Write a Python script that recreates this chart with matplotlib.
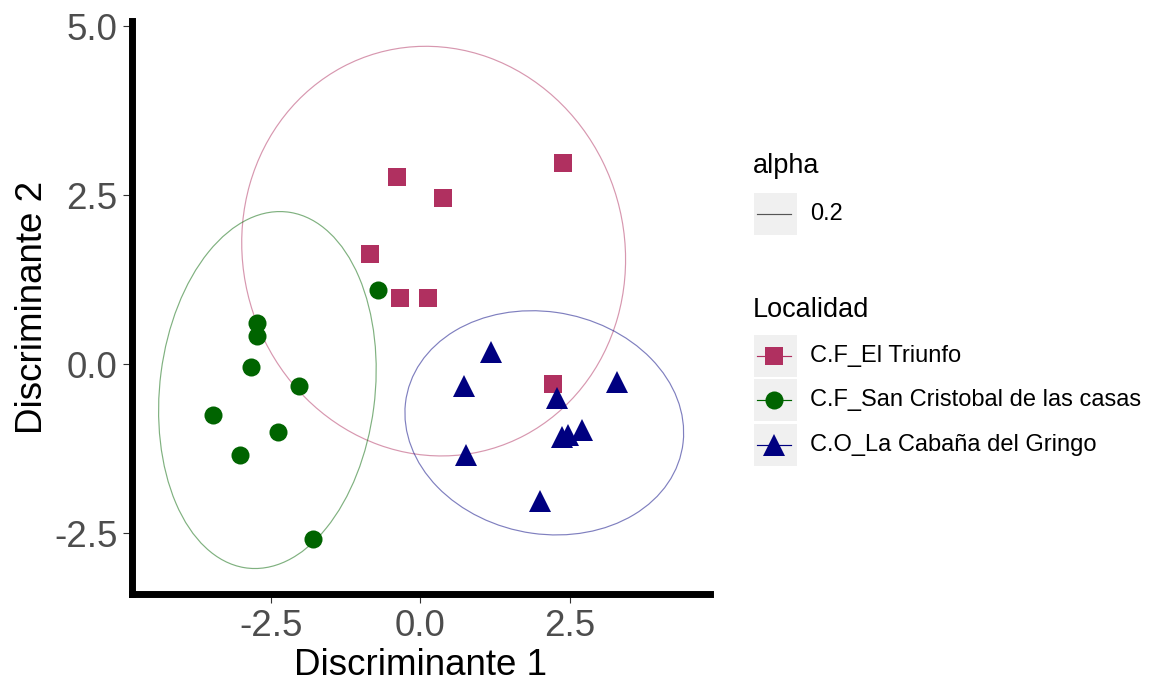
import numpy as np
import matplotlib
matplotlib.use('Agg')
import matplotlib.pyplot as plt
from matplotlib.patches import Ellipse, Rectangle

plt.rcParams['font.family'] = ['Liberation Sans', 'DejaVu Sans']

# === Données ===
localidades = ["C.F_El Triunfo", "C.F_San Cristobal de las casas", "C.O_La Cabaña del Gringo"]

triunfo_x = [-0.40, 0.38, 2.38, -0.85, -0.34, 0.13, 2.22]
triunfo_y = [2.76, 2.45, 2.98, 1.62, 0.98, 0.98, -0.29]

sancris_x = [-0.71, -2.74, -2.74, -2.83, -2.03, -3.47, -2.38, -3.02, -1.80]
sancris_y = [1.09, 0.61, 0.41, -0.04, -0.33, -0.75, -1.01, -1.35, -2.59]

cabana_x = [1.18, 0.72, 2.28, 3.29, 0.76, 1.99, 2.36, 2.47, 2.70]
cabana_y = [0.18, -0.33, -0.51, -0.27, -1.35, -2.03, -1.08, -1.05, -0.98]

# ellipses (centre + matrice de dispersion)
ell_cx = [0.22, -2.56, 2.07]
ell_cy = [1.67, -0.385, -0.87]
ell_sxx = [10.30, 3.31, 5.43]
ell_syy = [9.18, 6.97, 2.75]
ell_sxy = [-0.40, 0.55, -0.34]

x_ticks = [-2.5, 0.0, 2.5]
x_ticklabels = ["-2.5", "0.0", "2.5"]
y_ticks = [-2.5, 0.0, 2.5, 5.0]
y_ticklabels = ["-2.5", "0.0", "2.5", "5.0"]

alpha_labels = ["0.2"]

couleurs = ["#B03060", "#006400", "#000080"]
marqueurs = ["s", "o", "^"]
tailles = [13.5, 13.0, 15.5]

W, H = 1149, 684
fig = plt.figure(figsize=(W / 100, H / 100), dpi=100)
ax = fig.add_axes([132 / W, (H - 594) / H, 578 / W, 573 / H])

groupes = [(triunfo_x, triunfo_y), (sancris_x, sancris_y), (cabana_x, cabana_y)]

# ellipses d'abord
for i in range(3):
    cov = np.array([[ell_sxx[i], ell_sxy[i]], [ell_sxy[i], ell_syy[i]]])
    vals, vecs = np.linalg.eigh(cov)
    ang = np.degrees(np.arctan2(vecs[1, 1], vecs[0, 1]))
    e = Ellipse((ell_cx[i], ell_cy[i]), 2 * np.sqrt(vals[1]), 2 * np.sqrt(vals[0]),
                angle=ang, fill=False, edgecolor=couleurs[i], alpha=0.5, lw=0.85)
    ax.add_patch(e)

for i, (gx, gy) in enumerate(groupes):
    ax.plot(gx, gy, ls='none', marker=marqueurs[i], color=couleurs[i],
            markersize=tailles[i], markeredgewidth=0)

ax.set_xlim(-4.824, 4.841)
ax.set_ylim(-3.402, 5.074)
ax.set_xticks(x_ticks)
ax.set_xticklabels(x_ticklabels)
ax.set_yticks(y_ticks)
ax.set_yticklabels(y_ticklabels)

for s in ['top', 'right']:
    ax.spines[s].set_visible(False)
for s in ['left', 'bottom']:
    ax.spines[s].set_linewidth(5)
    ax.spines[s].set_color('black')
    ax.spines[s].set_capstyle('projecting')

ax.tick_params(direction='out', length=6.5, width=0.8, color='#333333',
               labelcolor='#4D4D4D', labelsize=26.5, pad=4)

ax.set_xlabel("Discriminante 1", fontsize=26.5, color='black')
ax.set_ylabel("Discriminante 2", fontsize=26.5, color='black')
ax.xaxis.set_label_coords(0.5, -0.094)
ax.yaxis.set_label_coords(-0.142, 0.5)

# === Légende dessinée à la main ===
lax = fig.add_axes([0, 0, 1, 1])
lax.set_xlim(0, W)
lax.set_ylim(H, 0)
lax.axis('off')

fond = '#F0F0F0'
lax.text(753, 173, "alpha", fontsize=19.5, va='baseline', ha='left')
lax.add_patch(Rectangle((754, 193), 43, 42, facecolor=fond, edgecolor='none'))
lax.plot([757, 791], [214, 214], color='#555555', lw=0.85)
lax.text(810, 214, alpha_labels[0], fontsize=17, va='center', ha='left')

lax.text(753, 317, "Localidad", fontsize=19.5, va='baseline', ha='left')
key_tops = [335, 379, 424]
for i, nom in enumerate(localidades):
    cy = key_tops[i] + 21
    lax.add_patch(Rectangle((754, key_tops[i]), 43, 42, facecolor=fond, edgecolor='none'))
    lax.plot([757, 791], [cy, cy], color=couleurs[i], lw=0.85)
    lax.plot([774], [cy], marker=marqueurs[i], color=couleurs[i],
             markersize=tailles[i], markeredgewidth=0)
    lax.text(810, cy, nom, fontsize=17, va='center', ha='left')

fig.savefig("out.png", dpi=100)
